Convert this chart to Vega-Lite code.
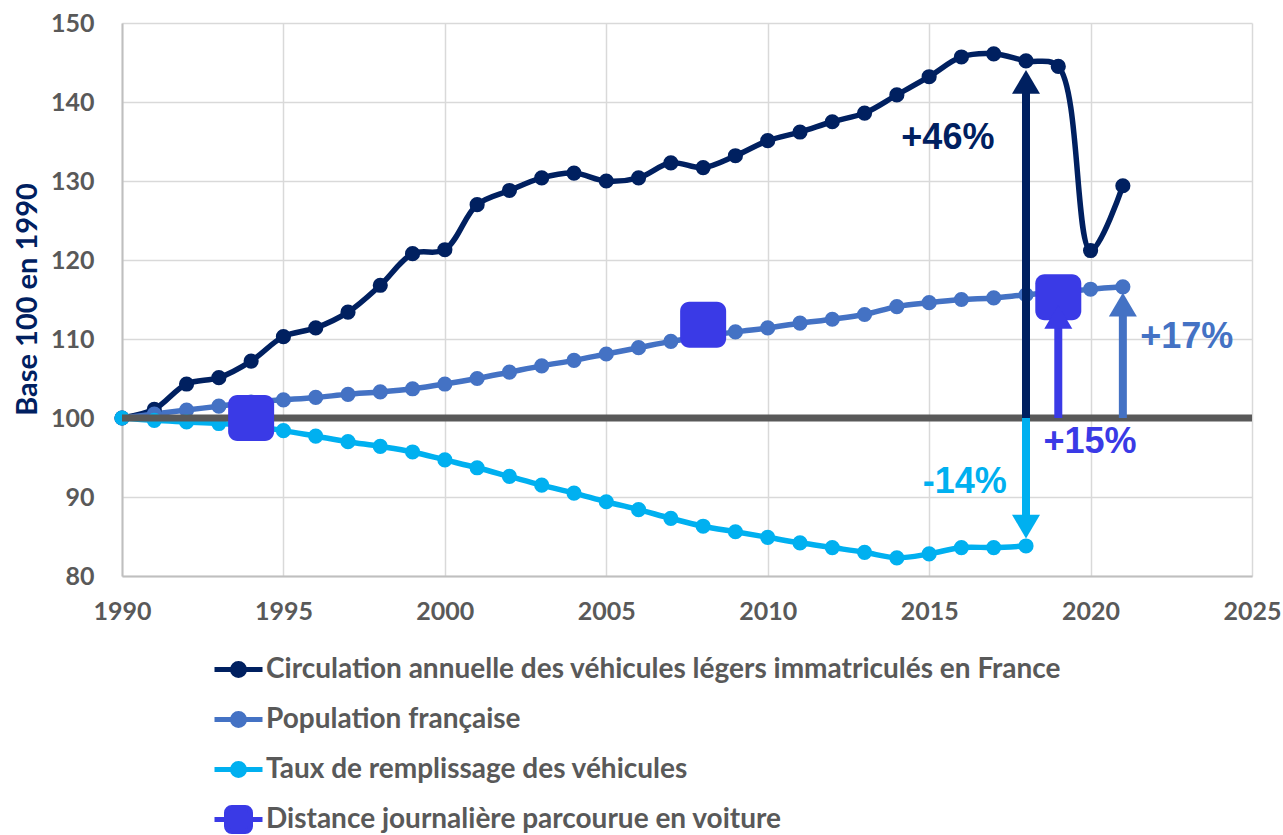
{
  "$schema": "https://vega.github.io/schema/vega-lite/v6.json",
  "width": 1130,
  "height": 553,
  "autosize": {"type": "none"},
  "padding": {"left": 122, "top": 23, "right": 31, "bottom": 259},
  "background": "white",
  "config": {
    "view": {"stroke": null},
    "axis": {
      "labelFont": "Lato", "labelFontSize": 25, "labelFontWeight": "bold", "labelColor": "#595959",
      "labelFlush": false, "labelOverlap": false,
      "ticks": false, "domainColor": "#BFBFBF", "domainWidth": 2,
      "gridColor": "#D9D9D9", "gridWidth": 1.5
    },
    "axisX": {"labelPadding": 23},
    "axisY": {"labelPadding": 28, "titleFont": "Lato", "titleFontSize": 29, "titleFontWeight": "bold", "titleColor": "#002060",
      "titleX": -95, "titleY": 276, "titleAngle": -90, "titleAlign": "center", "titleBaseline": "middle"}
  },
  "datasets": {
    "main": [
      {"year": 1990, "C": 100, "P": 100, "T": 100},
      {"year": 1991, "C": 101.1, "P": 100.5, "T": 99.7},
      {"year": 1992, "C": 104.3, "P": 101.0, "T": 99.5},
      {"year": 1993, "C": 105.1, "P": 101.5, "T": 99.3},
      {"year": 1994, "C": 107.2, "P": 102.0, "T": 99.0},
      {"year": 1995, "C": 110.3, "P": 102.3, "T": 98.4},
      {"year": 1996, "C": 111.4, "P": 102.6, "T": 97.7},
      {"year": 1997, "C": 113.4, "P": 103.0, "T": 97.0},
      {"year": 1998, "C": 116.8, "P": 103.3, "T": 96.4},
      {"year": 1999, "C": 120.8, "P": 103.7, "T": 95.7},
      {"year": 2000, "C": 121.3, "P": 104.3, "T": 94.7},
      {"year": 2001, "C": 127.0, "P": 105.0, "T": 93.7},
      {"year": 2002, "C": 128.8, "P": 105.8, "T": 92.6},
      {"year": 2003, "C": 130.4, "P": 106.6, "T": 91.5},
      {"year": 2004, "C": 131.0, "P": 107.3, "T": 90.5},
      {"year": 2005, "C": 130.0, "P": 108.1, "T": 89.4},
      {"year": 2006, "C": 130.4, "P": 108.9, "T": 88.4},
      {"year": 2007, "C": 132.3, "P": 109.7, "T": 87.3},
      {"year": 2008, "C": 131.7, "P": 110.3, "T": 86.3},
      {"year": 2009, "C": 133.2, "P": 110.9, "T": 85.6},
      {"year": 2010, "C": 135.1, "P": 111.4, "T": 84.9},
      {"year": 2011, "C": 136.2, "P": 112.0, "T": 84.2},
      {"year": 2012, "C": 137.5, "P": 112.5, "T": 83.6},
      {"year": 2013, "C": 138.6, "P": 113.1, "T": 83.0},
      {"year": 2014, "C": 140.9, "P": 114.1, "T": 82.3},
      {"year": 2015, "C": 143.2, "P": 114.6, "T": 82.8},
      {"year": 2016, "C": 145.7, "P": 115.0, "T": 83.6},
      {"year": 2017, "C": 146.1, "P": 115.2, "T": 83.6},
      {"year": 2018, "C": 145.2, "P": 115.6, "T": 83.8},
      {"year": 2019, "C": 144.5, "P": 115.9, "T": null},
      {"year": 2020, "C": 121.2, "P": 116.3, "T": null},
      {"year": 2021, "C": 129.4, "P": 116.6, "T": null}
    ],
    "dist": [
      {"s": "D", "year": 1994, "value": 100},
      {"s": "D", "year": 2008, "value": 111.8},
      {"s": "D", "year": 2019, "value": 115.3}
    ],
    "base": [{"year": 1990, "year2": 2025, "value": 100}],
    "shafts": [
      {"s": "C", "year": 2018, "value": 100, "end": 141.6},
      {"s": "T", "year": 2018, "value": 100, "end": 87.4},
      {"s": "D", "year": 2019, "value": 100, "end": 111.5},
      {"s": "P", "year": 2021, "value": 100, "end": 113.2}
    ],
    "heads": [
      {"s": "C", "year": 2018, "value": 142.55, "dir": "up"},
      {"s": "T", "year": 2018, "value": 86.25, "dir": "down"},
      {"s": "D", "year": 2019, "value": 112.8, "dir": "up"},
      {"s": "P", "year": 2021, "value": 114.35, "dir": "up"}
    ],
    "labels": [
      {"s": "C", "year": 2015.58, "value": 135.4, "t": "+46%"},
      {"s": "P", "year": 2022.98, "value": 110.25, "t": "+17%"},
      {"s": "D", "year": 2019.98, "value": 96.96, "t": "+15%"},
      {"s": "T", "year": 2016.1, "value": 91.9, "t": "-14%"}
    ]
  },
  "encoding": {
    "x": {"field": "year", "type": "quantitative", "title": null,
      "scale": {"domain": [1990, 2025], "nice": false, "zero": false},
      "axis": {"values": [1990, 1995, 2000, 2005, 2010, 2015, 2020, 2025], "format": "d"}},
    "y": {"field": "value", "type": "quantitative", "title": "Base 100 en 1990",
      "scale": {"domain": [80, 150], "nice": false, "zero": false},
      "axis": {"values": [80, 90, 100, 110, 120, 130, 140, 150]}}
  },
  "layer": [
    {
      "data": {"name": "main"},
      "transform": [
        {"fold": ["C", "P", "T"], "as": ["s", "value"]},
        {"filter": "datum.value != null"}
      ],
      "mark": {"type": "line", "strokeWidth": 5.5, "interpolate": "catmull-rom", "strokeCap": "round", "strokeJoin": "round"},
      "encoding": {
        "color": {"field": "s", "type": "nominal",
          "scale": {"domain": ["C", "P", "T", "D"], "range": ["#002060", "#4472C4", "#00B0F0", "#3A3AE6"]},
          "legend": {
            "orient": "none", "legendX": 90, "legendY": 620, "direction": "vertical", "title": null,
            "labelFont": "Lato", "labelFontSize": 28, "labelFontWeight": "bold", "labelColor": "#595959",
            "labelLimit": 0, "labelOffset": 1, "symbolSize": 2304, "rowPadding": 7,
            "labelExpr": "datum.value === 'C' ? 'Circulation annuelle des véhicules légers immatriculés en France' : datum.value === 'P' ? 'Population française' : datum.value === 'T' ? 'Taux de remplissage des véhicules' : 'Distance journalière parcourue en voiture'",
            "encode": {"symbols": {"update": {
              "shape": {"signal": "datum.value === 'D' ? 'M-1,0H-0.5M0.5,0H1M-0.28,-0.5H0.28A0.22,0.22 0 0 1 0.5,-0.28V0.28A0.22,0.22 0 0 1 0.28,0.5H-0.28A0.22,0.22 0 0 1 -0.5,0.28V-0.28A0.22,0.22 0 0 1 -0.28,-0.5Z' : 'M-1,0H-0.25A0.25,0.25 0 1 1 0.25,0H1M0.25,0A0.25,0.25 0 1 1 -0.25,0'"},
              "fill": {"scale": "color", "field": "value"},
              "stroke": {"scale": "color", "field": "value"},
              "strokeWidth": {"value": 5},
              "opacity": {"value": 1},
              "fillOpacity": {"value": 1},
              "strokeOpacity": {"value": 1}
            }}}
          }}
      }
    },
    {
      "data": {"name": "main"},
      "transform": [
        {"fold": ["C", "P", "T"], "as": ["s", "value"]},
        {"filter": "datum.value != null"}
      ],
      "mark": {"type": "point", "shape": "circle", "filled": true, "opacity": 1, "size": 230},
      "encoding": {"color": {"field": "s", "type": "nominal", "legend": null}}
    },
    {
      "data": {"name": "base"},
      "mark": {"type": "rule", "color": "#595959", "strokeWidth": 7},
      "encoding": {"x2": {"field": "year2"}}
    },
    {
      "data": {"name": "shafts"},
      "mark": {"type": "rule", "strokeWidth": 8},
      "encoding": {"y2": {"field": "end"}, "color": {"field": "s", "type": "nominal", "legend": null}}
    },
    {
      "data": {"name": "dist"},
      "mark": {"type": "point", "filled": true, "opacity": 1, "size": 2116,
        "shape": "M-0.6,-1H0.6A0.4,0.4 0 0 1 1,-0.6V0.6A0.4,0.4 0 0 1 0.6,1H-0.6A0.4,0.4 0 0 1 -1,0.6V-0.6A0.4,0.4 0 0 1 -0.6,-1Z"},
      "encoding": {"color": {"field": "s", "type": "nominal", "legend": null}}
    },
    {
      "data": {"name": "heads"},
      "mark": {"type": "point", "filled": true, "opacity": 1, "size": 784},
      "encoding": {
        "color": {"field": "s", "type": "nominal", "legend": null},
        "shape": {"field": "dir", "type": "nominal", "legend": null,
          "scale": {"domain": ["up", "down"], "range": ["M0,-0.85L1,0.85L-1,0.85Z", "M0,0.85L1,-0.85L-1,-0.85Z"]}}
      }
    },
    {
      "data": {"name": "labels"},
      "mark": {"type": "text", "font": "Liberation Sans", "fontSize": 36, "fontWeight": "bold", "align": "center", "baseline": "middle"},
      "encoding": {
        "text": {"field": "t"},
        "color": {"field": "s", "type": "nominal", "legend": null}
      }
    }
  ]
}
